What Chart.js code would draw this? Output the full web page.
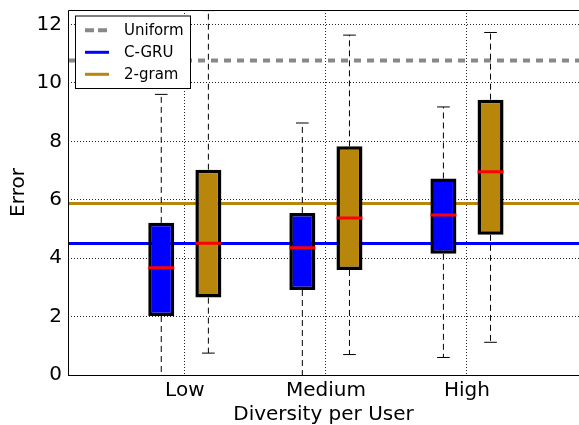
<!DOCTYPE html>
<html>
<head>
<meta charset="utf-8">
<script src="https://cdn.jsdelivr.net/npm/chart.js@4.4.0/dist/chart.umd.min.js"></script>
<style>
  html, body { margin: 0; padding: 0; background: #fff; }
</style>
</head>
<body>
<canvas id="boxChart" width="579" height="425"></canvas>
<script>
const categories = ['Low', 'Medium', 'High'];
const yTicks = [0, 2, 4, 6, 8, 10, 12];

// C-GRU boxes (whisker low, q1, median, q3, whisker high)
const cgruMin = [-0.3, -0.3, 0.60];
const cgruQ1 = [2.02, 2.91, 4.15];
const cgruMedian = [3.67, 4.36, 5.48];
const cgruQ3 = [5.21, 5.55, 6.73];
const cgruMax = [9.61, 8.63, 9.18];

// 2-gram boxes
const bigramMin = [0.75, 0.70, 1.12];
const bigramQ1 = [2.65, 3.60, 4.80];
const bigramMedian = [4.51, 5.38, 6.96];
const bigramQ3 = [7.03, 7.83, 9.43];
const bigramMax = [12.48, 11.64, 11.73];

// overall error lines
const uniformError = 10.77;
const cgruError = 4.50;
const bigramError = 5.87;

const xMin = 0.172, xMax = 3.794;
const shift = 0.167, capHalf = 0.045, medianHalf = 0.092;
const font = '"DejaVu Sans", sans-serif';

function boxData(q1, q3, dx) {
    return categories.map((c, i) => ({ x: i + 1 + dx, y: [q1[i], q3[i]] }));
}
function whiskerData(lo, q1, q3, hi, dx) {
    const pts = [];
    categories.forEach((c, i) => {
        const x = i + 1 + dx;
        pts.push({ x, y: q3[i] }, { x, y: hi[i] }, { x, y: null });
        pts.push({ x, y: q1[i] }, { x, y: lo[i] }, { x, y: null });
    });
    return pts;
}
function tickData(vals, dx, half) {
    const pts = [];
    vals.forEach((v, i) => {
        const x = i + 1 + dx;
        pts.push({ x: x - half, y: v }, { x: x + half, y: v }, { x, y: null });
    });
    return pts;
}
function flat(v) {
    return [{ x: xMin, y: v }, { x: xMax, y: v }];
}

const frame = {
    id: 'frame',
    afterDatasetsDraw(chart) {
        const { ctx, chartArea: ca } = chart;
        ctx.save();
        ctx.strokeStyle = '#000';
        ctx.lineWidth = 1;
        ctx.beginPath();
        ctx.moveTo(ca.right, ca.top + 0.5);
        ctx.lineTo(ca.left + 0.5, ca.top + 0.5);
        ctx.lineTo(ca.left + 0.5, ca.bottom + 0.5);
        ctx.lineTo(ca.right, ca.bottom + 0.5);
        ctx.stroke();
        ctx.restore();
    }
};

const legendBox = {
    id: 'legendBox',
    afterDraw(chart) {
        const { ctx, chartArea: ca } = chart;
        const items = chart.data.datasets.filter(d => d.baseline);
        const x0 = ca.left + 7.5, y0 = ca.top + 6, w = 115, h = 72.5;
        ctx.save();
        ctx.fillStyle = '#fff';
        ctx.fillRect(x0, y0, w, h);
        ctx.strokeStyle = '#000';
        ctx.lineWidth = 1;
        ctx.strokeRect(x0, y0, w, h);
        ctx.font = '15px ' + font;
        ctx.textBaseline = 'middle';
        items.forEach((d, i) => {
            const y = y0 + 14.3 + i * 22;
            ctx.beginPath();
            ctx.setLineDash(d.legendDash || []);
            ctx.strokeStyle = d.borderColor;
            ctx.lineWidth = d.borderWidth;
            ctx.moveTo(x0 + 9.5, y);
            ctx.lineTo(x0 + 33.5, y);
            ctx.stroke();
            ctx.setLineDash([]);
            ctx.fillStyle = '#000';
            ctx.fillText(d.label, x0 + 48.5, y + 1);
        });
        ctx.restore();
    }
};

const lineBase = { type: 'line', pointRadius: 0, fill: false, spanGaps: false, tension: 0 };

new Chart(document.getElementById('boxChart'), {
    type: 'line',
    data: {
        datasets: [
            { ...lineBase, label: 'Uniform', baseline: true, data: flat(uniformError),
              borderColor: '#888888', borderWidth: 4, borderDash: [7, 6], legendDash: [9, 4], order: 5 },
            { ...lineBase, label: 'C-GRU', baseline: true, data: flat(cgruError),
              borderColor: '#0000ff', borderWidth: 3, order: 5 },
            { ...lineBase, label: '2-gram', baseline: true, data: flat(bigramError),
              borderColor: '#b8860b', borderWidth: 3, order: 5 },
            { ...lineBase, label: 'whiskers C-GRU', data: whiskerData(cgruMin, cgruQ1, cgruQ3, cgruMax, -shift),
              borderColor: '#000', borderWidth: 1, borderDash: [6, 4], order: 4 },
            { ...lineBase, label: 'whiskers 2-gram', data: whiskerData(bigramMin, bigramQ1, bigramQ3, bigramMax, shift),
              borderColor: '#000', borderWidth: 1, borderDash: [6, 4], order: 4 },
            { ...lineBase, label: 'caps', order: 4, borderColor: '#000', borderWidth: 1,
              data: tickData(cgruMin, -shift, capHalf).concat(tickData(cgruMax, -shift, capHalf),
                    tickData(bigramMin, shift, capHalf), tickData(bigramMax, shift, capHalf)) },
            { type: 'bar', label: 'C-GRU boxes', data: boxData(cgruQ1, cgruQ3, -shift),
              backgroundColor: '#0000ff', borderColor: '#000', borderWidth: 3.5, borderSkipped: false,
              grouped: false, maxBarThickness: 26, order: 2 },
            { type: 'bar', label: '2-gram boxes', data: boxData(bigramQ1, bigramQ3, shift),
              backgroundColor: '#b8860b', borderColor: '#000', borderWidth: 3.5, borderSkipped: false,
              grouped: false, maxBarThickness: 26, order: 2 },
            { ...lineBase, label: 'medians', order: 1, borderColor: '#ff0000', borderWidth: 3,
              data: tickData(cgruMedian, -shift, medianHalf).concat(tickData(bigramMedian, shift, medianHalf)) }
        ]
    },
    options: {
        responsive: false,
        animation: false,
        events: [],
        layout: { padding: { top: 10, right: 0, left: 0, bottom: 0 } },
        plugins: {
            legend: { display: false },
            tooltip: { enabled: false }
        },
        scales: {
            x: {
                type: 'linear',
                min: xMin,
                max: xMax,
                offset: false,
                afterBuildTicks: (scale) => { scale.ticks = categories.map((c, i) => ({ value: i + 1 })); },
                afterFit: (scale) => {
                    scale.height = 50;
                    scale.paddingLeft = 0; scale.paddingRight = 0;
                    scale.paddingTop = 0; scale.paddingBottom = 0;
                },
                ticks: {
                    callback: (v, i) => categories[i],
                    font: { family: font, size: 20 },
                    color: '#000',
                    padding: 4,
                    maxRotation: 0
                },
                grid: { color: 'rgba(0,0,0,0.85)', lineWidth: 1, drawTicks: false, offset: false },
                border: { display: false, dash: [1, 2] },
                title: {
                    display: true,
                    text: 'Diversity per User',
                    font: { family: font, size: 20, lineHeight: 1 },
                    color: '#000',
                    padding: { top: 0, bottom: 0 }
                }
            },
            y: {
                min: 0,
                max: 12.5,
                afterBuildTicks: (scale) => { scale.ticks = yTicks.map(v => ({ value: v })); },
                afterFit: (scale) => {
                    scale.width = 68;
                    scale.paddingTop = 0; scale.paddingBottom = 0;
                    scale.paddingLeft = 0; scale.paddingRight = 0;
                },
                ticks: {
                    font: { family: font, size: 20 },
                    color: '#000',
                    padding: 6
                },
                grid: { color: 'rgba(0,0,0,0.85)', lineWidth: 1, drawTicks: false },
                border: { display: false, dash: [1, 2] },
                title: {
                    display: true,
                    text: 'Error',
                    font: { family: font, size: 20, lineHeight: 1 },
                    color: '#000',
                    padding: { top: 9, bottom: 0 }
                }
            }
        }
    },
    plugins: [frame, legendBox]
});
</script>
</body>
</html>
